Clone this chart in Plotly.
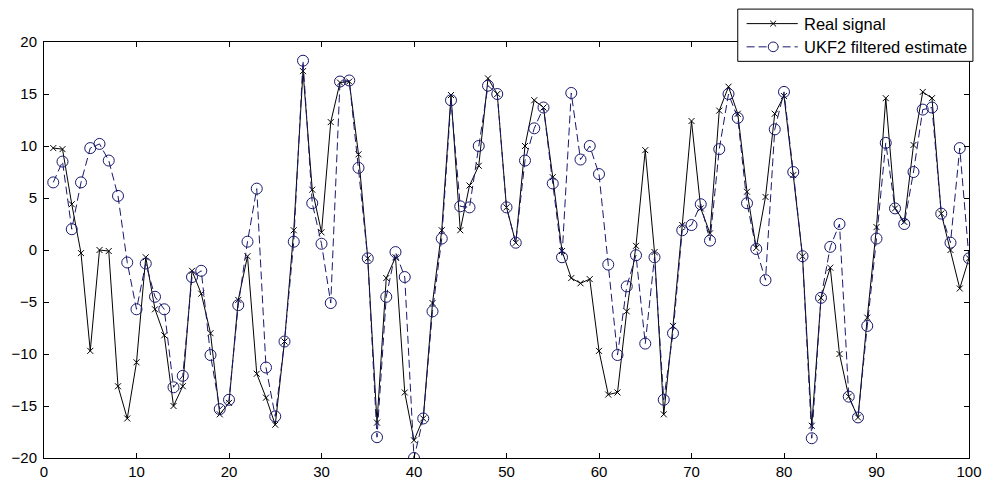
import plotly.graph_objects as go

x_vals = list(range(1, 101))

real_signal = [
    9.8, 9.7, 4.4, -0.3, -9.7, 0.0, -0.1, -13.1, -16.2, -10.8,
    -0.7, -5.7, -8.2, -15.0, -13.1, -2.0, -4.2, -8.0, -15.8, -14.7,
    -4.8, -0.6, -11.9, -14.2, -16.8, -8.8, 1.9, 17.2, 5.8, 1.7,
    12.3, 16.1, 16.2, 9.2, -0.8, -16.6, -2.7, -0.7, -13.7, -18.3,
    -16.2, -5.1, 1.9, 14.9, 1.9, 6.2, 8.1, 16.5, 15.0, 4.1,
    0.7, 10.0, 14.4, 13.7, 7.0, -0.1, -2.7, -3.2, -2.8, -9.7,
    -13.9, -13.7, -5.9, 0.4, 9.6, -0.2, -15.8, -7.3, 2.4, 12.4,
    4.0, 1.6, 13.4, 15.7, 13.1, 5.6, 0.2, 5.1, 13.1, 14.8,
    7.2, -0.6, -16.9, -4.6, -1.7, -10.0, -14.1, -16.1, -6.5, 2.2,
    14.6, 4.0, 2.7, 10.1, 15.2, 14.6, 3.5, 0.0, -3.7, -0.8,
]

ukf_estimate = [
    6.5, 8.5, 2.0, 6.5, 9.8, 10.2, 8.6, 5.2, -1.2, -5.7,
    -1.3, -4.5, -5.7, -13.2, -12.1, -2.6, -2.0, -10.1, -15.3, -14.4,
    -5.3, 0.8, 5.9, -11.3, -16.0, -8.8, 0.8, 18.2, 4.5, 0.6,
    -5.1, 16.2, 16.3, 7.9, -0.8, -18.0, -4.5, -0.2, -2.6, -20.0,
    -16.2, -5.9, 1.1, 14.4, 4.2, 4.1, 10.0, 15.8, 15.0, 4.1,
    0.7, 8.6, 11.7, 13.7, 6.4, -0.7, 15.1, 8.7, 10.0, 7.3,
    -1.4, -10.1, -3.5, -0.5, -9.0, -0.7, -14.4, -8.0, 1.9, 2.4,
    4.4, 0.9, 9.7, 15.0, 12.7, 4.5, 0.1, -2.9, 11.6, 15.2,
    7.5, -0.6, -18.1, -4.6, 0.3, 2.5, -14.1, -16.1, -7.3, 1.1,
    10.3, 4.0, 2.5, 7.5, 13.5, 13.7, 3.5, 0.7, 9.8, -0.8,
]

series_names = ["Real signal", "UKF2 filtered estimate"]
x_ticks = list(range(0, 101, 10))
y_ticks = list(range(-20, 21, 5))

navy = "rgb(24,24,110)"
FONT = "Liberation Sans, Arial, sans-serif"
DASH = "8px,4px"

W, H = 994, 492
ML, MR, MT, MB = 38, 16, 42, 20
PW, PH = W - ML - MR, H - MT - MB


def px(x):
    return (x - ML) / PW


def py(y):
    return (H - MB - y) / PH


fig = go.Figure()
fig.add_trace(go.Scatter(
    x=x_vals, y=real_signal, name=series_names[0],
    mode="lines+markers",
    line=dict(color="black", width=1),
    marker=dict(symbol="x-thin", size=6, line=dict(color="black", width=1), color="black"),
    showlegend=False,
))
fig.add_trace(go.Scatter(
    x=x_vals, y=ukf_estimate, name=series_names[1],
    mode="lines+markers",
    line=dict(color=navy, width=1, dash=DASH),
    marker=dict(symbol="circle-open", size=11, line=dict(color=navy, width=1), color=navy),
    showlegend=False,
))

axis_common = dict(
    showgrid=False, zeroline=False, showline=True, linecolor="black", linewidth=1,
    mirror="ticks", ticks="inside", ticklen=5, tickcolor="black",
    tickfont=dict(family=FONT, size=15, color="black"),
)
fig.update_xaxes(range=[0, 100], tickvals=x_ticks, **axis_common)
fig.update_yaxes(range=[-20, 20], tickvals=y_ticks, ticklabelstandoff=3, **axis_common)

# MATLAB-style legend box drawn by hand
shapes = []
LX0, LX1, LY0, LY1 = 743, 982, 8, 62
shapes.append(dict(type="rect", xref="paper", yref="paper",
                   x0=px(LX0), x1=px(LX1), y0=py(LY1), y1=py(LY0),
                   line=dict(color="black", width=1), fillcolor="white", layer="above"))
r1, r2 = 23, 47
sx0, sx1, sm = 752, 804, 779
shapes.append(dict(type="line", xref="paper", yref="paper",
                   x0=px(sx0), x1=px(sx1), y0=py(r1), y1=py(r1),
                   line=dict(color="black", width=1), layer="above"))
for d in (1, -1):
    shapes.append(dict(type="line", xref="paper", yref="paper",
                       x0=px(sm - 3), x1=px(sm + 3), y0=py(r1 - 3 * d), y1=py(r1 + 3 * d),
                       line=dict(color="black", width=1), layer="above"))
shapes.append(dict(type="line", xref="paper", yref="paper",
                   x0=px(sx0), x1=px(sx1), y0=py(r2), y1=py(r2),
                   line=dict(color=navy, width=1, dash=DASH), layer="above"))
shapes.append(dict(type="circle", xref="paper", yref="paper",
                   x0=px(sm - 5), x1=px(sm + 5), y0=py(r2 + 5), y1=py(r2 - 5),
                   line=dict(color=navy, width=1), fillcolor="white", layer="above"))

annotations = [
    dict(text=series_names[0], xref="paper", yref="paper", x=px(808), y=py(r1),
         xanchor="left", yanchor="middle", showarrow=False,
         font=dict(family=FONT, size=16.5, color="black")),
    dict(text=series_names[1], xref="paper", yref="paper", x=px(808), y=py(r2),
         xanchor="left", yanchor="middle", showarrow=False,
         font=dict(family=FONT, size=16.5, color="black")),
]

fig.update_layout(
    width=W, height=H,
    margin=dict(l=ML, r=MR, t=MT, b=MB, pad=0),
    plot_bgcolor="white", paper_bgcolor="white",
    showlegend=False,
    shapes=shapes, annotations=annotations,
)

fig.write_html(
    "out.html",
    config={"displayModeBar": False},
    post_script="document.body.style.margin='0';document.body.style.overflow='hidden';",
)
